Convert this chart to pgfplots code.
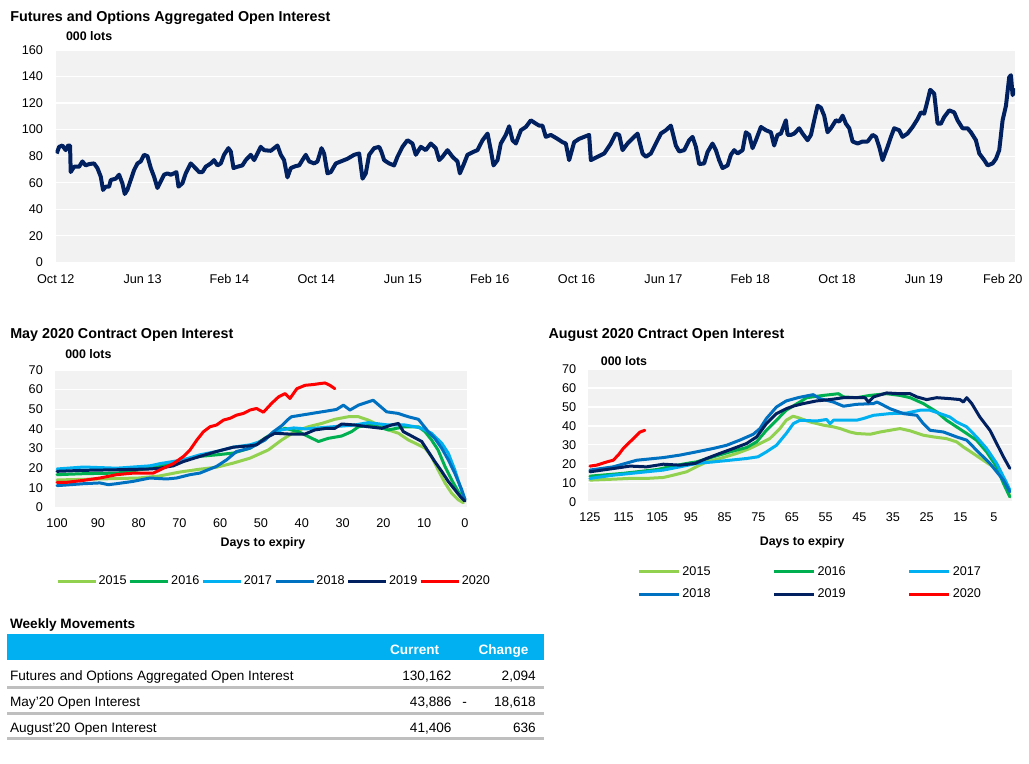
\documentclass[border=0pt]{standalone}
\usepackage{pgfplots}
\pgfplotsset{compat=1.18}
\usepackage{fontspec}
\setmainfont{Liberation Sans}
\definecolor{bgc}{HTML}{F2F2F2}
\definecolor{c15}{HTML}{92D050}
\definecolor{c16}{HTML}{00B050}
\definecolor{c17}{HTML}{00B0F0}
\definecolor{c18}{HTML}{0070C0}
\definecolor{c19}{HTML}{002060}
\definecolor{c20}{HTML}{FF0000}
\definecolor{hdr}{HTML}{00B0F0}
\definecolor{tline}{HTML}{BFBFBF}
\newcommand{\tickf}{\fontsize{9.5}{11}\selectfont}
\newcommand{\ttlf}{\fontsize{10.75}{12}\selectfont\bfseries}
\newcommand{\lotsf}{\fontsize{9.3}{11}\selectfont\bfseries}
\newcommand{\tblf}{\fontsize{10.2}{12}\selectfont}
\pgfplotsset{
 panel/.style={
  scale only axis,
  axis background/.style={fill=bgc},
  axis line style={draw=none},
  tick style={draw=none},
  major tick length=0pt,
  ymajorgrids,
  major grid style={white, line width=0.9pt},
  tick label style={font=\tickf},
  /pgf/number format/assume math mode=true,
  legend cell align=left,
 },
 ser/.style={line width=2.25pt, line join=round, line cap=round},
}
\begin{document}
\begin{tikzpicture}
\path[use as bounding box] (0,0) rectangle (771.75pt,573pt);
% ---------------- top chart
\node[anchor=base west, inner sep=0pt] at (7.5pt,556.75pt) {\ttlf Futures and Options Aggregated Open Interest};
\node[anchor=base west, inner sep=0pt] at (49.3pt,542.7pt) {\lotsf 000 lots};
\begin{axis}[panel, at={(41.8pt,376.3pt)}, anchor=south west,
  width=719.5pt, height=159.2pt,
  xmin=0, xmax=88.4, ymin=0, ymax=160,
  ytick={0,20,...,160}, xtick={0,8,...,88},
  xticklabels={Oct 12,Jun 13,Feb 14,Oct 14,Jun 15,Feb 16,Oct 16,Jun 17,Feb 18,Oct 18,Jun 19,\hspace*{-12pt}Feb 20},
  yticklabel style={xshift=-6pt}, xticklabel style={yshift=-5.4pt, text height=7pt, text depth=0pt}]
\addplot[c19, line width=3pt, line join=round] coordinates {
(0.09,82)(0.31,87)(0.61,88)(0.92,84.5)(1.14,88)(1.32,88)(1.38,68)(1.69,72)(2.15,72)(2.46,76)
(2.76,73)(3.07,74)(3.53,74.5)(3.84,71)(4.15,64.5)(4.36,54.5)(4.61,57)(4.92,57)(5.07,62)(5.53,63)
(5.84,66)(6.14,59.5)(6.36,51.5)(6.60,54.5)(6.91,62)(7.22,69.5)(7.53,74.5)(7.83,76)(8.14,81)(8.45,80)
(8.76,71)(9.06,64.5)(9.37,56)(9.68,61)(9.98,66)(10.29,67)(10.60,66)(10.90,67)(11.12,68)(11.31,57)
(11.67,59.5)(11.98,67)(12.44,74.5)(12.75,72)(13.21,68)(13.52,68)(13.82,72)(14.29,74.5)(14.59,77)(14.90,73)
(15.21,74.5)(15.51,81)(15.91,86)(16.13,83.5)(16.38,71)(16.74,72)(17.20,73)(17.51,77)(17.97,81)(18.28,77)
(18.59,82)(18.89,87)(19.20,84.5)(19.82,84)(20.43,88)(20.74,81)(21.04,77)(21.35,64)(21.66,71)(22.12,72.5)
(22.43,73)(22.73,77)(23.04,81)(23.35,76)(23.81,74.5)(24.12,76)(24.49,86)(24.73,82)(25.04,67)(25.35,68)
(25.81,74.5)(26.27,76)(26.88,78)(27.50,81)(27.96,82)(28.27,63)(28.57,67)(28.88,81)(29.34,86)(29.80,87)
(30.00,83.5)(30.26,77)(30.72,74.5)(31.18,73)(31.49,79.5)(31.95,87)(32.41,92)(32.87,89.5)(33.18,81)(33.64,87)
(34.10,84.5)(34.56,89.5)(35.02,86)(35.33,77)(35.64,79.5)(36.10,84.5)(36.56,79.5)(37.02,76)(37.24,67)(37.63,74.5)
(37.94,81)(38.56,83.5)(38.86,84.5)(39.33,92)(39.79,97)(40.09,84.5)(40.34,73)(40.71,77)(41.01,89.5)(41.47,96)
(41.78,102.5)(42.09,92)(42.40,89.5)(42.86,99.5)(43.32,102)(43.78,107)(44.24,104.5)(44.55,103)(44.85,103)(45.16,94.5)
(45.62,96)(46.24,93)(46.70,90.5)(47.00,89.5)(47.31,77)(47.77,90.5)(48.23,93)(48.69,94.5)(49.15,96)(49.31,77)
(49.92,79.5)(50.54,82)(51.15,89.5)(51.61,97)(51.92,96)(52.23,84.5)(52.69,89.5)(53.30,94.5)(53.61,97)(54.07,82)
(54.38,79.5)(54.84,82)(55.30,89.5)(55.76,97)(56.22,99.5)(56.68,103)(57.14,88)(57.45,83.5)(57.91,84.5)(58.37,92)
(58.68,94.5)(58.99,87)(59.29,74)(59.75,74.5)(60.06,83)(60.52,89.5)(60.83,84.5)(61.13,77)(61.44,71)(61.91,73)
(62.21,81)(62.52,84.5)(62.83,82)(63.29,84.5)(63.59,98)(63.90,96)(64.21,86)(64.52,92)(64.98,102)(65.44,99.5)
(65.90,98)(66.20,88)(66.51,96)(66.82,97)(67.28,107)(67.44,96)(67.74,96)(68.05,97)(68.51,101)(68.82,97)
(69.28,92)(69.59,96)(69.89,107)(70.20,118)(70.51,116.5)(70.81,110.5)(71.12,98)(71.43,101)(71.89,107)(72.20,106)
(72.51,110.5)(72.81,104.5)(73.12,101)(73.43,91)(73.89,89.5)(74.35,91)(74.81,91)(75.27,96)(75.58,94.5)(75.88,87)
(76.19,77)(76.65,87)(76.96,94.5)(77.26,101)(77.72,99.5)(78.03,94.5)(78.49,97)(78.96,102)(79.42,108)(79.72,113)
(80.03,112)(80.34,122)(80.58,130)(80.95,127)(81.26,104.5)(81.57,104.5)(81.87,109.5)(82.33,114.5)(82.79,113)(83.10,107)
(83.56,101)(84.02,101)(84.33,98)(84.79,92)(85.10,82)(85.56,77)(85.87,73)(86.33,74.5)(86.64,78)(86.94,84.5)
(87.25,107)(87.56,118)(87.86,139.5)(88.02,141)(88.17,126)(88.40,131)
};
\end{axis}
% ---------------- May chart
\node[anchor=base west, inner sep=0pt] at (7.5pt,319.25pt) {\ttlf May 2020 Contract Open Interest};
\node[anchor=base west, inner sep=0pt] at (48.75pt,304pt) {\lotsf 000 lots};
\node[anchor=base, inner sep=0pt] at (197.25pt,163.3pt) {\lotsf Days to expiry};
\begin{axis}[panel, at={(41.25pt,192.4pt)}, anchor=south west,
  width=309pt, height=103.1pt,
  x dir=reverse, xmin=-0.5, xmax=100.5, ymin=0, ymax=70,
  ytick={0,10,...,70}, xtick={0,10,...,100},
  yticklabel style={xshift=-5.6pt}, xticklabel style={yshift=-5.2pt},
  legend image code/.code={\draw[#1, line width=2.25pt, line cap=butt] (0pt,0pt) -- (28.5pt,0pt);},
  legend style={draw=none, fill=none, at={(0.003,-0.535)}, anchor=west, legend columns=6,
    inner sep=0pt, outer sep=0pt, font=\tickf,
    nodes={inner sep=0pt},
    /tikz/every odd column/.append style={column sep=1pt},
    /tikz/every even column/.append style={column sep=1.6pt}}]
\addplot[ser, c15] coordinates {(100,14)(90,14.5)(80,15)(75,16)(70,18)(65,19.5)(60.9,20.5)(56.8,22.6)(52.7,25.1)(48.2,29.3)(44.9,34.4)(41.7,38.6)(38.4,41.1)(35.1,42.8)(31.9,44.9)(28.6,46.2)(26.1,46.2)(23.7,44.5)(21.2,42)(18.8,39.5)(16.3,37.8)(13.9,34.4)(11.4,31.9)(9.8,30.2)(8.2,26)(6.6,19.2)(4.9,12.5)(3.3,7.4)(1.7,4)(0.4,2.4)};
\addlegendentry{2015}
\addplot[ser, c16] coordinates {(100,16.7)(93.5,17.2)(85.4,17.5)(77.2,20)(74.8,20.9)(69.0,24.3)(65.0,26)(60.9,26.8)(56.8,27.7)(52.7,30.2)(51.5,31.9)(46.6,38.6)(44.1,40.3)(40.8,38.6)(38.4,36.1)(35.9,33.6)(33.5,35.2)(30.2,36.4)(27.8,38.6)(26.1,41.1)(22.9,42)(18.8,39.5)(14.7,41.1)(11.4,41.1)(9.8,38.6)(8.2,34.4)(6.6,29.3)(4.9,20.9)(3.3,14.2)(1.7,8.3)(0,3.5)};
\addlegendentry{2016}
\addplot[ser, c17] coordinates {(100,19.6)(93.5,20.6)(85.4,20)(77.2,21.2)(74.8,22.3)(69.0,24.3)(65.0,26.8)(60.9,28.5)(56.8,30.7)(52.7,31.9)(49.4,34)(47.4,37.5)(45.0,39.5)(42,40.5)(39,40)(36,40.5)(33,41)(30,41.5)(27,42)(23.7,43.2)(18.8,42)(14.7,42)(12.3,41.1)(10.6,40.3)(8.2,37.8)(5.7,32.7)(4.1,27.7)(2.5,19.2)(1.2,10.8)(0,4)};
\addlegendentry{2017}
\addplot[ser, c18] coordinates {(100,11.1)(93.5,12.1)(89.5,12.5)(87.4,11.6)(85.4,12.1)(81.3,13.3)(77.2,15)(73.1,14.5)(70.7,15)(67.4,16.7)(65.0,17.5)(60.9,20.9)(58.4,24.3)(56.0,28.5)(52.7,30.2)(49.0,34.4)(47.0,38.5)(45.0,41.5)(43.0,45.5)(42.5,46.2)(35.1,48.7)(31.5,49.9)(29.8,52.1)(28.2,49.6)(26.1,52.1)(22.5,54.6)(19.2,48.7)(16.4,47.9)(13.9,46.2)(11.4,44.9)(10.6,42.8)(9.0,38.6)(7.4,35.2)(5.7,30.2)(4.1,24.3)(2.5,17.5)(0.8,9.1)(0,4)};
\addlegendentry{2018}
\addplot[ser, c19] coordinates {(100,18.4)(93.5,18.9)(85.4,19.2)(77.2,19.6)(74.8,20)(71.5,21.2)(69.0,23.4)(65.0,26)(60.9,28.5)(56.8,30.7)(52.7,31.4)(51.1,31.9)(49.0,35.2)(46.6,37.8)(43.3,37.4)(39.2,37.4)(36.8,39.5)(33.9,40.3)(31.9,40.3)(30.2,42.5)(27.0,42)(23.7,41.1)(20.4,40.3)(18.0,42)(16.3,42.8)(15.1,38.6)(13.1,36.4)(10.6,33.6)(9.0,28.5)(7.4,23.4)(5.7,18.4)(4.1,13.3)(2.5,9.1)(1.2,5.7)(0,3.2)};
\addlegendentry{2019}
\addplot[ser, c20] coordinates {(100,12.8)(97.6,12.8)(93.5,13.8)(89.5,15)(85.4,16.7)(81.3,17.5)(76.4,17.5)(73.9,20)(71.5,22.3)(69.0,26)(67.4,29.3)(65.7,34.4)(64.1,38.6)(62.5,41.1)(60.9,42)(59.2,44.5)(57.6,45.4)(56.0,47)(54.3,47.9)(52.7,49.6)(51.1,50.4)(49.4,48.5)(47.4,53)(45.7,56.3)(44.1,58)(42.9,55.5)(41.2,60.5)(39.2,62.2)(37.2,62.6)(35.5,63.1)(34.3,63.4)(33.1,62.2)(31.9,60.5)};
\addlegendentry{2020}
\end{axis}
% ---------------- August chart
\node[anchor=base west, inner sep=0pt] at (411.2pt,319.25pt) {\ttlf August 2020 Cntract Open Interest};
\node[anchor=base west, inner sep=0pt] at (450.5pt,299.2pt) {\lotsf 000 lots};
\node[anchor=base, inner sep=0pt] at (601.7pt,164.1pt) {\lotsf Days to expiry};
\begin{axis}[panel, at={(441.2pt,196.7pt)}, anchor=south west,
  width=317.8pt, height=99.5pt,
  x dir=reverse, xmin=-0.35, xmax=125.5, ymin=0, ymax=70,
  ytick={0,10,...,70}, xtick={5,15,...,125},
  yticklabel style={xshift=-5.5pt}, xticklabel style={yshift=-4.6pt},
  legend image code/.code={\draw[#1, line width=2.25pt, line cap=butt] (0pt,0pt) -- (30pt,0pt);},
  legend style={draw=none, fill=none, at={(0.116,-0.613)}, anchor=west, legend columns=3,
    inner sep=0pt, outer sep=0pt, font=\tickf, row sep=9pt,
    nodes={inner sep=0pt},
    /tikz/every odd column/.append style={column sep=1.5pt},
    /tikz/every even column/.append style={column sep=46.5pt}}]
\addplot[ser, c15] coordinates {(125,11.4)(118.1,11.9)(113.1,12.3)(108.2,12.3)(103.2,12.8)(100.3,14)(96.3,15.8)(93.4,18.4)(90.4,21)(86.4,22.8)(81.4,25.5)(77.5,28.1)(74.5,30.7)(71.6,33.3)(68.6,38.6)(66.7,43)(64.7,45.1)(63.2,44.4)(59.6,42.1)(55.7,40.4)(52.7,39.5)(50.7,38.6)(47.8,36.8)(45.8,36)(41.8,35.6)(38.8,36.8)(35.9,37.7)(32.9,38.6)(29.9,37.4)(26.0,35.1)(23.0,34.2)(19.1,33.3)(16.1,31.6)(14.1,28.9)(11.2,25.5)(8.2,21.9)(5.2,18.4)(3.2,14)(1.2,7.9)(0.3,2.6)};
\addlegendentry{2015}
\addplot[ser, c16] coordinates {(125,13.5)(115,15)(105,17)(100,19)(95.3,20.5)(93.4,21)(88.4,23.7)(83.4,26.3)(78.5,28.6)(75.5,31.6)(72.6,37.7)(69.6,43)(66.7,48.3)(62.7,52.6)(60.6,54.9)(55.7,56.1)(51.2,57)(49.7,55.3)(45.8,54.9)(41.8,56.1)(36.9,57)(32.9,56.1)(29.9,54.9)(26.0,51.8)(22.0,47.4)(19.1,43)(16.1,39.5)(13.1,36)(10.2,32.5)(7.2,26.3)(4.2,18.4)(2.2,9.7)(0.3,2.6)};
\addlegendentry{2016}
\addplot[ser, c17] coordinates {(125,12.3)(118.1,14)(113.1,14.9)(108.2,15.8)(103.2,16.7)(98.3,18.4)(93.4,20.2)(88.4,21)(83.4,21.9)(78.5,22.8)(75.1,23.7)(72.6,26.3)(69.6,29.8)(66.7,36)(64.6,41.2)(62.6,43)(57.7,42.6)(54.7,43.4)(53.7,41.2)(52.7,43)(45.8,43)(43.8,43.9)(40.8,45.6)(35.9,46.5)(30.9,46.8)(26.9,48.3)(24.0,48.3)(21.0,46.5)(18.1,44.7)(16.1,42.1)(13.1,39.5)(10.2,34.2)(7.2,28.1)(4.2,20.2)(1.2,9.7)(0.3,6.2)};
\addlegendentry{2017}
\addplot[ser, c18] coordinates {(125,16.7)(118.1,18.4)(111.1,21.9)(103.2,23.3)(98.3,24.6)(93.4,26.3)(88.4,28.1)(84.4,29.8)(80.5,32.5)(76.5,35.6)(74.5,38.6)(72.6,43.9)(69.6,50)(66.7,53.2)(63,55)(58.7,56.5)(56.7,54.4)(52.7,52.6)(49.7,50.4)(45.8,51.4)(40.8,51.8)(39.8,52.6)(38.8,51.8)(35.9,49.1)(31.9,46.5)(27.9,45.6)(26.0,41.2)(24.0,37.7)(20.0,36.8)(16.1,34.2)(13.1,32.5)(10.2,27.2)(6.2,20.2)(2.2,11.4)(0.3,5.3)};
\addlegendentry{2018}
\addplot[ser, c19] coordinates {(125,15.8)(118.1,17.5)(113.1,18.8)(108.2,18.4)(103.2,19.8)(98.3,19.3)(93.8,20.2)(90.4,22.8)(86.4,25.5)(82.4,28.1)(78.5,30.7)(75.5,34.2)(72.6,41.2)(69.6,46.5)(66.7,49.1)(64.5,50.5)(61.6,51.8)(57.7,53.2)(53.7,53.9)(49.7,54.9)(45.8,54.9)(43.3,54.9)(42.3,52.6)(40.8,55.3)(36.9,57.4)(32.9,57)(29.9,57)(27.9,55.3)(25.0,53.9)(22.0,54.9)(18.1,54.4)(15.1,53.9)(14.1,52.6)(13.1,54.9)(11.6,51.8)(9.2,44.7)(6.2,37.7)(4.2,30.7)(2.2,23.7)(0.3,17.6)};
\addlegendentry{2019}
\addplot[ser, c20] coordinates {(125,18.8)(123,19.3)(120,21)(118.1,21.9)(116.6,24.6)(115.1,28.1)(113.1,31.6)(111.6,34.2)(110.1,36.8)(108.7,37.7)};
\addlegendentry{2020}
\end{axis}
% ---------------- table
\node[anchor=base west, inner sep=0pt] at (7.35pt,101.9pt) {\tblf\bfseries Weekly Movements};
\fill[hdr] (5.25pt,78pt) rectangle (407.8pt,97.5pt);
\node[anchor=base, inner sep=0pt, text=white] at (311pt,82.4pt) {\tblf\bfseries Current};
\node[anchor=base east, inner sep=0pt, text=white] at (396.5pt,82.4pt) {\tblf\bfseries Change};
\node[anchor=base west, inner sep=0pt] at (7.35pt,62.4pt) {\tblf Futures and Options Aggregated Open Interest};
\node[anchor=base east, inner sep=0pt] at (338.85pt,62.4pt) {\tblf 130,162};
\node[anchor=base east, inner sep=0pt] at (402pt,62.4pt) {\tblf 2,094};
\draw[tline, line width=2.25pt] (5.25pt,57.5pt) -- (407.8pt,57.5pt);
\node[anchor=base west, inner sep=0pt] at (7.35pt,43.1pt) {\tblf May'20 Open Interest};
\node[anchor=base east, inner sep=0pt] at (338.85pt,43.1pt) {\tblf 43,886};
\node[anchor=base, inner sep=0pt] at (348.5pt,43.1pt) {\tblf -};
\node[anchor=base east, inner sep=0pt] at (402pt,43.1pt) {\tblf 18,618};
\draw[tline, line width=2.25pt] (5.25pt,38pt) -- (407.8pt,38pt);
\node[anchor=base west, inner sep=0pt] at (7.35pt,23.9pt) {\tblf August'20 Open Interest};
\node[anchor=base east, inner sep=0pt] at (338.85pt,23.9pt) {\tblf 41,406};
\node[anchor=base east, inner sep=0pt] at (402pt,23.9pt) {\tblf 636};
\draw[tline, line width=2.25pt] (5.25pt,18.75pt) -- (407.8pt,18.75pt);
\end{tikzpicture}
\end{document}
